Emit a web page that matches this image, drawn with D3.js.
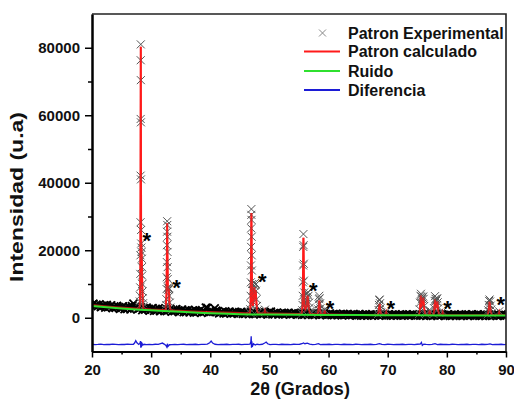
<!DOCTYPE html>
<html>
<head>
<meta charset="utf-8">
<script src="https://cdn.jsdelivr.net/npm/d3@7"></script>
<style>
  body { margin: 0; background: #fff; }
  svg { display: block; font-family: "Liberation Sans", Arial, sans-serif; font-weight: bold; }
</style>
</head>
<body>
<svg id="xrd"></svg>
<script>
// tick labels
let xTicks = [20, 30, 40, 50, 60, 70, 80, 90]
let xMinor = [25, 35, 45, 55, 65, 75, 85]
let yTicks = [0, 20000, 40000, 60000, 80000]
let yMinor = [10000, 30000, 50000, 70000]

// experimental scan, background part (2theta from 20, step 0.25)
let scanStart = 20
let scanStep = 0.25
let expBg = [
  3790,4150,3300,3860,3420,3980,3140,3490,3650,3010,3780,3140,3300,3660,2830,3390,2950,3520,3090,2660,
  3030,3390,2560,3130,2700,3280,2450,3430,4200,3180,3350,2530,2700,3080,2250,2830,2400,2980,2550,2130,
  2500,2880,2060,2640,2230,2810,1990,2370,2550,1930,2700,2080,2250,2630,1800,2380,1950,2530,2110,1690,
  2070,2390,1670,2180,1810,2310,1590,1920,2080,1540,2220,1670,1830,2160,1450,1960,1890,3000,2930,1670,
  1700,1990,1770,2800,2090,1930,1310,1600,1730,1270,1860,1390,1530,1820,1210,1640,1330,1770,1460,1150,
  1440,1730,1120,1560,1250,1690,1080,1370,1520,1060,1650,1190,1330,1620,1020,1460,1150,1590,1290,980,
  1770,1810,1010,1380,1120,1490,980,1230,1350,970,1460,1080,1200,1440,940,1310,1050,1420,1160,910,
  1150,1390,890,1250,1000,1360,860,1100,1220,830,1330,940,1060,1300,800,1160,910,1270,1020,760,
  1000,1190,790,1080,870,1160,760,950,1040,730,1130,820,910,1100,700,990,780,1070,870,660,
  850,1040,640,930,730,1040,640,840,940,640,1030,730,830,1030,630,930,730,1020,820,620,
  820,1020,620,920,710,1010,610,810,910,610,1010,710,810,1000,600,900,700,1000,800,600,
  800,1000,600,900,700,990,590,790,890,590,990,690,790,990,590,890,690,980,780,580,
  780,980,580,880,680,980,580,780,880,570,970,670,770,970,570,870,670,970,770,570,
  770,970,570,870,670,960,560,760,860,560,960,660,760,960,560,860,660,960,760,560,
  760
]

// experimental points on the reflections [2theta, intensity]
let expPeaks = [
  [28.05,3600],[28.09,4800],[28.12,6500],[28.15,9000],[28.17,13000],[28.19,18500],[28.21,28300],[28.22,42100],
  [28.23,58900],[28.24,76300],[28.25,81000],[28.26,70400],[28.27,57900],[28.28,41000],[28.30,26000],[28.32,22000],
  [28.35,20800],[28.38,19500],[28.41,17500],[28.44,15000],[28.47,12500],[28.50,10000],[28.54,7800],[28.58,5800],
  [28.63,4300],[28.70,3400],
  [32.50,2600],[32.55,3800],[32.58,5500],[32.61,8500],[32.63,12000],[32.65,16500],[32.67,21500],[32.69,25500],
  [32.71,28600],[32.73,27500],[32.75,24000],[32.77,19500],[32.79,15000],[32.81,11500],[32.84,9000],[32.90,8200],
  [32.96,8800],[33.02,8500],[33.08,6500],[33.14,4500],[33.22,3000],
  [46.70,1500],[46.76,2500],[46.80,4000],[46.83,6500],[46.86,10500],[46.88,15500],[46.90,21000],[46.92,26500],
  [46.94,30500],[46.95,32200],[46.97,29000],[46.99,24000],[47.01,18500],[47.03,14000],[47.08,10000],[47.18,8000],
  [47.32,8500],[47.45,9500],[47.55,10300],[47.65,9800],[47.74,8000],[47.82,5500],[47.90,3500],[48.00,2200],[48.12,1600],
  [49.25,2400],
  [55.50,1200],[55.56,2200],[55.60,3800],[55.63,6500],[55.66,10500],[55.69,15500],[55.72,21000],[55.75,24800],
  [55.78,21500],[55.81,16000],[55.84,11000],[55.88,7500],[55.93,5500],[56.00,4500],[56.10,4000],[56.20,4600],
  [56.30,6000],[56.40,7200],[56.50,7600],[56.60,6500],[56.70,4500],[56.82,3000],[56.95,2000],[57.10,1500],
  [58.15,1300],[58.25,2500],[58.32,4000],[58.38,5500],[58.43,6500],[58.48,5800],[58.55,4200],[58.62,2800],[58.72,1800],
  [59.30,2400],[59.40,2200],
  [68.35,1100],[68.45,2300],[68.52,3800],[68.58,5200],[68.64,5400],[68.70,4300],[68.78,2800],[68.88,1600],
  [69.75,1900],
  [75.30,1100],[75.40,2500],[75.48,4500],[75.55,6500],[75.62,7100],[75.70,6200],[75.80,5500],[75.90,6000],
  [76.00,6300],[76.08,5600],[76.18,3500],[76.30,1700],[76.45,1100],
  [77.05,2300],[77.15,2100],
  [77.75,1100],[77.85,2800],[77.93,5000],[78.00,6400],[78.08,5600],[78.18,5000],[78.28,5500],[78.38,5800],
  [78.46,4600],[78.56,2800],[78.68,1500],
  [79.30,1900],
  [86.90,1000],[87.00,2200],[87.08,3800],[87.15,5000],[87.22,5400],[87.30,4800],[87.40,3600],[87.50,2400],[87.62,1300],
  [88.85,1900]
]

// calculated pattern [2theta, intensity]
let calcPts = [
  [20,3790],[22,3450],[24,3150],[26,2900],
  [28.00,2700],[28.12,5000],[28.18,14000],[28.22,45000],[28.25,80300],[28.28,45000],[28.31,23000],[28.36,21000],
  [28.42,17000],[28.50,9500],[28.58,4500],[28.70,2650],
  [30,2500],[32,2350],
  [32.45,2300],[32.60,7000],[32.66,18000],[32.71,28000],[32.76,18000],[32.82,9000],[32.90,8000],[33.00,8600],
  [33.10,4000],[33.25,2250],
  [34,2150],[36,1980],[38,1830],[40,1700],[42,1580],[44,1480],[46,1400],
  [46.70,1380],[46.82,4000],[46.88,14000],[46.95,31000],[47.02,14000],[47.10,6000],[47.20,3500],[47.32,5000],
  [47.45,9000],[47.55,5500],[47.68,8200],[47.78,5000],[47.90,2200],[48.02,1330],
  [49.10,1300],[49.25,2150],[49.40,1290],
  [50,1270],[55,1150],
  [55.45,1140],[55.60,3500],[55.68,13000],[55.75,23700],[55.82,13000],[55.90,4000],[56.05,2500],[56.30,3500],
  [56.45,6600],[56.55,5000],[56.70,2200],[56.90,1100],
  [58.15,1060],[58.30,2500],[58.43,5100],[58.56,2500],[58.70,1040],
  [59.20,1020],[59.35,2150],[59.50,1015],
  [60,1000],[65,850],
  [68.35,840],[68.50,2200],[68.62,4100],[68.74,2200],[68.90,840],
  [69.60,830],[69.75,1700],[69.90,825],
  [70,820],[75,800],
  [75.30,800],[75.45,2500],[75.60,6600],[75.75,3500],[75.85,3800],[76.02,6000],[76.15,3000],[76.35,800],
  [76.95,790],[77.10,2200],[77.25,790],
  [77.75,790],[77.88,2800],[78.00,5400],[78.12,3000],[78.22,3300],[78.40,4800],[78.52,2500],[78.68,785],
  [79.15,785],[79.30,1700],[79.45,780],
  [80,780],[85,770],
  [86.90,765],[87.05,2200],[87.22,4800],[87.38,2500],[87.55,765],
  [88.70,760],[88.85,1700],[89.00,760],
  [90,760]
]

// background (Ruido)
let noisePts = [
  [20,3450],[22,3150],[25,2750],[28,2400],[30,2200],[33,1950],[35,1750],[38,1500],[40,1350],[43,1150],
  [45,1050],[50,950],[55,880],[60,830],[65,790],[70,760],[75,730],[80,700],[85,670],[90,640]
]

// difference curve
let diffPts = [
  [20,-7850],[20.5,-7950],[21,-7900],[21.5,-7800],[22,-7950],[22.5,-7880],[23,-7920],[23.5,-7820],[24,-7900],
  [24.5,-7980],[25,-7870],[25.5,-7930],[26,-7820],[26.5,-7900],[27,-7850],[27.2,-7500],[27.4,-6800],[27.6,-7400],
  [27.9,-7900],[28.1,-7600],[28.2,-6900],[28.25,-8900],[28.3,-7200],[28.35,-8700],[28.45,-7600],[28.6,-8100],
  [28.8,-7850],[29.2,-7950],[29.7,-7880],[30.2,-7950],[30.7,-7850],[31.2,-7900],[31.6,-7650],[31.9,-7500],
  [32.2,-7800],[32.5,-8200],[32.65,-8700],[32.75,-7700],[32.85,-8500],[33.1,-8000],[33.5,-7950],[34,-7880],
  [34.5,-7950],[35,-7900],[35.5,-7850],[36,-7950],[36.5,-7880],[37,-7920],[37.5,-7850],[38,-7950],[38.5,-7880],
  [39,-7900],[39.5,-7800],[39.9,-7400],[40.15,-6900],[40.4,-7500],[40.8,-7850],[41.3,-7950],[41.8,-7880],
  [42.3,-7920],[42.8,-7850],[43.3,-7950],[43.8,-7880],[44.3,-7900],[44.8,-7850],[45.3,-7950],[45.8,-7880],
  [46.3,-7900],[46.7,-7850],[46.85,-7200],[46.92,-5500],[46.97,-8900],[47.02,-7000],[47.1,-8600],[47.3,-7700],
  [47.6,-8100],[47.9,-7850],[48.3,-7950],[48.8,-7850],[49.2,-7500],[49.45,-7200],[49.7,-7700],[50.1,-7950],
  [50.6,-7880],[51.1,-7900],[51.6,-7950],[52.1,-7850],[52.6,-7920],[53.1,-7880],[53.6,-7950],[54.1,-7850],
  [54.6,-7900],[55.1,-7850],[55.5,-7700],[55.75,-7450],[56.0,-7700],[56.4,-7550],[56.8,-7800],[57.3,-7950],
  [57.8,-7880],[58.3,-7700],[58.6,-7950],[59.1,-7880],[59.6,-7920],[60.1,-7850],[60.6,-7950],[61.1,-7880],
  [61.6,-7900],[62.1,-7950],[62.6,-7850],[63.1,-7920],[63.6,-7880],[64.1,-7950],[64.6,-7850],[65.1,-7900],
  [65.6,-7950],[66.1,-7880],[66.6,-7920],[67.1,-7850],[67.6,-7950],[68.1,-7880],[68.6,-7650],[69.0,-7900],
  [69.5,-7950],[70,-7850],[70.5,-7900],[71,-7950],[71.5,-7880],[72,-7920],[72.5,-7850],[73,-7950],[73.5,-7880],
  [74,-7900],[74.5,-7950],[75,-7850],[75.5,-7800],[75.7,-7300],[75.85,-8200],[76.1,-7800],[76.5,-7900],
  [77,-7950],[77.5,-7880],[78.0,-7700],[78.4,-7950],[78.9,-7850],[79.4,-7920],[79.9,-7880],[80.4,-7950],
  [80.9,-7850],[81.4,-7900],[81.9,-7950],[82.4,-7880],[82.9,-7920],[83.4,-7850],[83.9,-7950],[84.4,-7880],
  [84.9,-7900],[85.4,-7950],[85.9,-7850],[86.4,-7920],[86.9,-7880],[87.3,-7750],[87.7,-7950],[88.2,-7880],
  [88.7,-7920],[89.2,-7850],[89.7,-7950],[90,-7900]
]

// asterisks marking the second phase
let starPts = [[29.25,24300],[34.3,10500],[48.8,12200],[57.4,9600],[60.25,4300],[70.5,4300],[80.1,4300],[89.1,5400]]

let legendNames = ["Patron Experimental", "Patron calculado", "Ruido", "Diferencia"]

let W = 514, H = 401
let svg = d3.select('#xrd')
    .attr('width', W)
    .attr('height', H)

let x = d3.scaleLinear().domain([20, 90]).range([92, 506])
let y = d3.scaleLinear().domain([-10000, 90000]).range([351.5, 14])

let redC = "#ff1a1a", greenC = "#2fe02f", blueC = "#1c1cd6"

svg.append("clipPath").attr("id", "plotclip")
  .append("rect")
  .attr("x", x(20)).attr("y", y(90000))
  .attr("width", x(90) - x(20)).attr("height", y(-10000) - y(90000))

let plot = svg.append("g").attr("clip-path", "url(#plotclip)")

let line = d3.line().x(d => x(d[0])).y(d => y(d[1]))
let calcSorted = calcPts.slice().sort((a, b) => a[0] - b[0])
let expScan = expBg.map((v, i) => [scanStart + i * scanStep, v])

// calculated under the markers
plot.append("path")
  .datum(calcSorted)
  .attr("d", line)
  .attr("fill", "none")
  .attr("stroke", redC)
  .attr("stroke-width", 2)

let cross = "M-4,-4L4,4M-4,4L4,-4"
plot.append("g").selectAll("path")
  .data(expScan)
  .enter()
  .append("path")
  .attr("d", cross)
  .attr("transform", d => "translate(" + x(d[0]) + "," + y(d[1]) + ")")
  .attr("fill", "none")
  .attr("stroke", "#000")
  .attr("stroke-width", 1.8)

plot.append("g").selectAll("path")
  .data(expPeaks)
  .enter()
  .append("path")
  .attr("d", cross)
  .attr("transform", d => "translate(" + x(d[0]) + "," + y(d[1]) + ")")
  .attr("fill", "none")
  .attr("stroke", "#555")
  .attr("stroke-width", 1)

// red drawn again, lighter, so the peaks stay red over the crosses
plot.append("path")
  .datum(calcSorted)
  .attr("d", line)
  .attr("fill", "none")
  .attr("stroke", redC)
  .attr("stroke-width", 1.8)
  .attr("stroke-opacity", 0.7)

plot.append("path")
  .datum(noisePts)
  .attr("d", line.curve(d3.curveMonotoneX))
  .attr("fill", "none")
  .attr("stroke", greenC)
  .attr("stroke-width", 2)

line.curve(d3.curveLinear)

plot.append("path")
  .datum(diffPts)
  .attr("d", line)
  .attr("fill", "none")
  .attr("stroke", blueC)
  .attr("stroke-width", 1.3)

svg.append("g").selectAll("text")
  .data(starPts)
  .enter()
  .append("text")
  .attr("x", d => x(d[0]))
  .attr("y", d => y(d[1]) + 12.5)
  .attr("text-anchor", "middle")
  .attr("font-size", 22)
  .attr("fill", "#000")
  .text("*")

// axes
svg.append("g")
  .attr("transform", "translate(0," + y(-10000) + ")")
  .call(d3.axisBottom(x).tickValues(xTicks).tickSize(6).tickSizeOuter(0).tickPadding(7).tickFormat(d3.format("d")))
svg.append("g")
  .attr("transform", "translate(0," + y(-10000) + ")")
  .call(d3.axisBottom(x).tickValues(xMinor).tickSize(3).tickSizeOuter(0).tickFormat(""))

svg.append("g")
  .attr("transform", "translate(" + x(20) + ",0)")
  .call(d3.axisLeft(y).tickValues(yTicks).tickSize(7).tickSizeOuter(0).tickPadding(5).tickFormat(d3.format("d")))
svg.append("g")
  .attr("transform", "translate(" + x(20) + ",0)")
  .call(d3.axisLeft(y).tickValues(yMinor).tickSize(4).tickSizeOuter(0).tickFormat(""))

svg.selectAll(".domain").attr("stroke-width", 2)
svg.selectAll(".tick line").attr("stroke-width", 1.5)
svg.selectAll(".tick text")
  .attr("font-size", 15)
  .attr("font-family", "'Liberation Sans', Arial, sans-serif")
  .attr("font-weight", "bold")
  .attr("fill", "#111")

// top and right frame
svg.append("path")
  .attr("d", "M" + x(20) + "," + y(90000) + "H" + x(90) + "V" + y(-10000))
  .attr("fill", "none")
  .attr("stroke", "#222")
  .attr("stroke-width", 1.6)

// axis titles
svg.append("text")
  .attr("x", 300)
  .attr("y", 395)
  .attr("text-anchor", "middle")
  .attr("font-size", 18)
  .attr("fill", "#111")
  .text("2θ (Grados)")

svg.append("text")
  .attr("transform", "translate(16.5,197) rotate(-90)")
  .attr("y", 6.3)
  .attr("text-anchor", "middle")
  .attr("font-size", 18)
  .attr("textLength", 170)
  .attr("lengthAdjust", "spacingAndGlyphs")
  .attr("fill", "#111")
  .text("Intensidad (u.a)")

// legend
let legendY = [33, 51.5, 71, 90]
let legendColors = [null, redC, greenC, blueC]
let lg = svg.append("g")
lg.selectAll("text")
  .data(legendNames)
  .enter()
  .append("text")
  .attr("x", 348)
  .attr("y", (d, i) => legendY[i] + 5.5)
  .attr("font-size", 16)
  .attr("fill", "#111")
  .text(d => d)

lg.append("path")
  .attr("d", "M-3.5,-3.5L3.5,3.5M-3.5,3.5L3.5,-3.5")
  .attr("transform", "translate(322.5," + legendY[0] + ")")
  .attr("fill", "none")
  .attr("stroke", "#888")
  .attr("stroke-width", 1)

lg.selectAll("line")
  .data([1, 2, 3])
  .enter()
  .append("line")
  .attr("x1", 304).attr("x2", 340)
  .attr("y1", i => legendY[i]).attr("y2", i => legendY[i])
  .attr("stroke", i => legendColors[i])
  .attr("stroke-width", 2)
</script>
</body>
</html>
